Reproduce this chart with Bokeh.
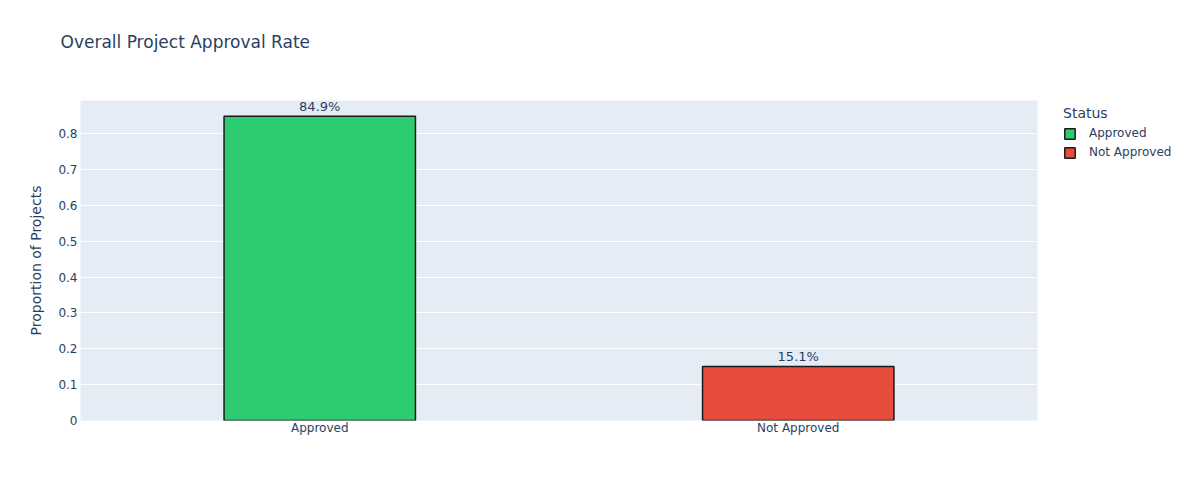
from bokeh.plotting import figure
from bokeh.models import ColumnDataSource, FactorRange, Range1d, FixedTicker, Legend, LegendItem, Title
from bokeh.core.properties import value
from bokeh.embed import file_html
from bokeh.resources import INLINE

# data
statuses = ["Approved", "Not Approved"]
proportions = [0.849, 0.151]
bar_colors = ["#2ecc71", "#e74c3c"]
y_ticks = [0, 0.1, 0.2, 0.3, 0.4, 0.5, 0.6, 0.7, 0.8]
y_tick_labels = ["0", "0.1", "0.2", "0.3", "0.4", "0.5", "0.6", "0.7", "0.8"]

FONT = "DejaVu Sans"
INK = "#2a3f5f"

source = ColumnDataSource(dict(
    status=statuses,
    prop=proportions,
    color=bar_colors,
    label=[f"{v * 100:.1f}%" for v in proportions],
))

p = figure(x_range=FactorRange(factors=statuses), y_range=Range1d(0, 0.893),
           frame_width=957, frame_height=320, output_backend="svg", toolbar_location=None,
           min_border_left=80, min_border_right=151, min_border_top=100, min_border_bottom=70,
           title="Overall Project Approval Rate")

p.background_fill_color = "#e5ecf6"
p.border_fill_color = "white"
p.outline_line_color = None

p.title.text_font = FONT
p.title.text_font_size = "17px"
p.title.text_font_style = "normal"
p.title.text_color = INK
p.title.offset = -20
p.title.standoff = 10

# blank spacer between the frame and the title, pushes the title up
p.add_layout(Title(text=" ", text_font_size="2px", standoff=40), "above")

bars = p.vbar(x="status", top="prop", width=0.4, source=source,
              fill_color="color", line_color="#1a1a1a", line_width=1.5)

p.text(x="status", y="prop", text="label", source=source,
       text_align="center", text_baseline="bottom", y_offset=-2,
       text_font=value(FONT), text_font_size="13px", text_color=INK)

# axes
p.xgrid.grid_line_color = None
p.ygrid.grid_line_color = "white"
p.ygrid.grid_line_width = 1
p.yaxis.ticker = FixedTicker(ticks=y_ticks)
p.yaxis.major_label_overrides = {t: s for t, s in zip(y_ticks, y_tick_labels)}
p.yaxis.axis_label = "Proportion of Projects"

for ax in (p.xaxis[0], p.yaxis[0]):
    ax.axis_line_color = None
    ax.major_tick_line_color = None
    ax.minor_tick_line_color = None
    ax.major_tick_out = 0
    ax.minor_tick_out = 0
    ax.major_label_text_font = FONT
    ax.major_label_text_font_size = "12px"
    ax.major_label_text_color = INK
    ax.axis_label_text_font = FONT
    ax.axis_label_text_font_style = "normal"
    ax.axis_label_text_font_size = "14px"
    ax.axis_label_text_color = INK

p.yaxis.major_label_standoff = 3
p.yaxis.axis_label_standoff = 11
p.xaxis.major_label_standoff = 0

legend = Legend(items=[LegendItem(label=s, renderers=[bars], index=i) for i, s in enumerate(statuses)],
                title="Status", location=(26, 261))
legend.title_text_font = FONT
legend.title_text_font_size = "14px"
legend.title_text_font_style = "normal"
legend.title_text_color = INK
legend.title_standoff = 5
legend.label_text_font = FONT
legend.label_text_font_size = "12px"
legend.label_text_color = INK
legend.glyph_width = 13
legend.glyph_height = 13
legend.label_height = 13
legend.spacing = 5
legend.label_standoff = 13
legend.padding = 0
legend.margin = 0
legend.border_line_color = None
legend.background_fill_alpha = 0
p.add_layout(legend, "right")

open("out.html", "w").write(file_html(p, INLINE))
